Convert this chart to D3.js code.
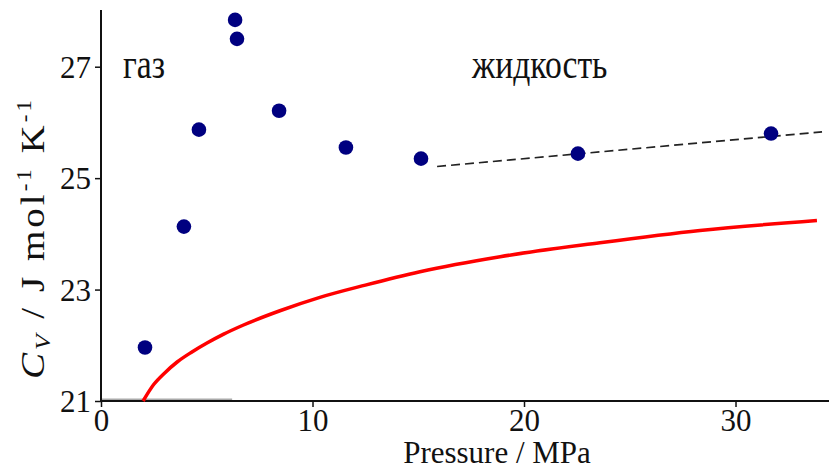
<!DOCTYPE html>
<html>
<head>
<meta charset="utf-8">
<script src="https://cdn.jsdelivr.net/npm/d3@7"></script>
<style>
  html, body { margin: 0; padding: 0; background: #fff; }
  svg { display: block; }
  text { font-family: "Liberation Serif", "Times New Roman", serif; fill: #111; }
</style>
</head>
<body>
<svg id="chart" width="829" height="470"></svg>
<script>
// Experimental points (Pressure MPa, Cv J/mol/K)
const pointPressure = [2.08, 3.92, 4.63, 6.34, 6.43, 8.42, 11.58, 15.13, 22.55, 31.68];
const pointCv       = [21.96, 24.13, 25.87, 27.84, 27.50, 26.21, 25.55, 25.35, 25.44, 25.80];

// Red model curve
const curvePressure = [1.99, 2.5, 3.0, 3.6, 4.3, 5.01, 5.8, 6.71, 8.46, 10.35, 12.5, 15.08, 18.87, 23.59, 28.32, 33.85];
const curveCv       = [21.0, 21.3, 21.5, 21.7, 21.88, 22.04, 22.2, 22.36, 22.62, 22.86, 23.08, 23.32, 23.59, 23.84, 24.06, 24.24];

// Dashed liquid trend line
const trendPressure = [15.89, 34.09];
const trendCv       = [25.21, 25.83];

// Ticks
const xTicks = [0, 10, 20, 30];
const yTicks = [21, 23, 25, 27];

// Labels
const xTitle = "Pressure / MPa";
const gasLabel = "газ";
const liquidLabel = "жидкость";

const svg = d3.select("#chart");
const mLeft = 101, mRight = 829, mTop = 11, mBottom = 401;

const x = d3.scaleLinear().domain([0, 34.42]).range([mLeft, mRight]);
const y = d3.scaleLinear().domain([21, 28]).range([mBottom, mTop]);

// faint gray segment on the axis start
svg.append("line")
  .attr("x1", x(0)).attr("x2", x(6.2))
  .attr("y1", mBottom - 1).attr("y2", mBottom - 1)
  .attr("stroke", "#aaa").attr("stroke-width", 3);

// Axes
const xAxis = d3.axisBottom(x).tickValues(xTicks).tickSize(6).tickPadding(1).tickFormat(d3.format("d"));
const yAxis = d3.axisLeft(y).tickValues(yTicks).tickSize(6).tickPadding(4).tickFormat(d3.format("d"));

const gx = svg.append("g").attr("transform", `translate(0,${mBottom})`).call(xAxis);
const gy = svg.append("g").attr("transform", `translate(${mLeft},0)`).call(yAxis);

[gx, gy].forEach(g => {
  g.select(".domain").attr("stroke", "#111").attr("stroke-width", 2);
  g.selectAll(".tick line").attr("stroke", "#111").attr("stroke-width", 1.5);
  g.selectAll(".tick text")
    .attr("font-family", "Liberation Serif, serif")
    .attr("font-size", 31).attr("fill", "#111");
});
gx.select(".domain").attr("d", `M${mLeft},0H${mRight}`);
gy.select(".domain").attr("d", `M0,${mBottom}V${mTop - 1}`);
gx.selectAll(".tick text").attr("dy", "0.74em");
gy.selectAll(".tick text").attr("dy", "0.34em");

// Red curve
const curveData = curvePressure.map((p, i) => [p, curveCv[i]]);
svg.append("path")
  .datum(curveData)
  .attr("fill", "none")
  .attr("stroke", "#ff0000")
  .attr("stroke-width", 3.5)
  .attr("d", d3.line().x(d => x(d[0])).y(d => y(d[1])).curve(d3.curveMonotoneX));

// Dashed trend
const trendData = trendPressure.map((p, i) => [p, trendCv[i]]);
svg.append("path")
  .datum(trendData)
  .attr("fill", "none")
  .attr("stroke", "#222")
  .attr("stroke-width", 1.6)
  .attr("stroke-dasharray", "9,5")
  .attr("d", d3.line().x(d => x(d[0])).y(d => y(d[1])));

// Points
svg.append("g").selectAll("circle")
  .data(pointPressure.map((p, i) => [p, pointCv[i]]))
  .join("circle")
  .attr("cx", d => x(d[0]))
  .attr("cy", d => y(d[1]))
  .attr("r", 7.3)
  .attr("fill", "#000080");

// Annotations (tall, slightly condensed serif as in reference)
svg.append("text").attr("transform", "translate(123,78) scale(0.8,1)")
  .attr("font-size", 42).text(gasLabel);
svg.append("text").attr("transform", "translate(472,78) scale(0.8,1)")
  .attr("font-size", 42).text(liquidLabel);

// X title
svg.append("text")
  .attr("x", 497).attr("y", 463)
  .attr("text-anchor", "middle")
  .attr("font-size", 31)
  .text(xTitle);

// Y title (slightly stretched along its length like the reference)
const yt = svg.append("text")
  .attr("transform", "translate(44,238) rotate(-90) scale(1.15,1)")
  .attr("text-anchor", "middle")
  .attr("font-size", 34)
  .attr("letter-spacing", 2.6);
yt.append("tspan").attr("font-style", "italic").text("C");
yt.append("tspan").attr("font-style", "italic").attr("font-size", 22).attr("dy", 6).text("V");
yt.append("tspan").attr("dy", -6).text(" / J mol");
yt.append("tspan").attr("font-size", 20).attr("dy", -13).text("-1");
yt.append("tspan").attr("dy", 13).text(" K");
yt.append("tspan").attr("font-size", 20).attr("dy", -13).text("-1");
</script>
</body>
</html>
